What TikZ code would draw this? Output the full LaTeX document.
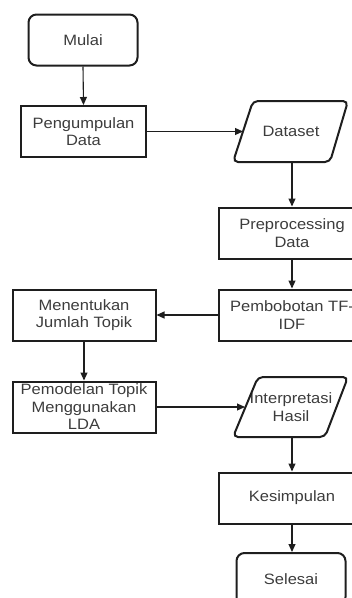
\documentclass[tikz,border=0pt]{standalone}
\usepackage{fontspec}
\setmainfont{Liberation Sans}[FakeStretch=1.1]
\usetikzlibrary{calc,arrows.meta}
\definecolor{txtgray}{HTML}{3C3C3C}
\definecolor{linec}{HTML}{1E1E1E}
\tikzset{
  lbl/.style={text=txtgray, align=center, font=\fontsize{15}{17.5}\selectfont, inner sep=0pt},
  base/.style={lbl, draw=linec, line width=2pt},
  proc/.style={base, rectangle, minimum width=#1, minimum height=51},
  term/.style={base, rounded corners=8pt, minimum width=109, minimum height=51},
  iobox/.style={draw=linec, line width=2pt, rounded corners=5pt},
  arr/.style={-{Triangle[length=8pt,width=7pt]}, line width=1.1pt, draw=linec},
}
\begin{document}
\begin{tikzpicture}[x=1pt,y=-1pt]
\useasboundingbox (0,0) rectangle (352,598);
\clip (0,0) rectangle (352,598);
% nodes
\node[term] (mulai) at (83,40) {Mulai};
\node[proc=125] (peng) at (83.5,131.5) {Pengumpulan\\Data};
\node[lbl] (ds) at (291,131.5) {Dataset};
\draw[iobox] ($(ds)+(-38,-30.5)$) -- ($(ds)+(57,-30.5)$) -- ($(ds)+(39,30.5)$) -- ($(ds)+(-58,30.5)$) -- cycle;
\coordinate (dsL) at ($(ds)+(-48,0)$);
\coordinate (dsB) at ($(ds)+(1,30.5)$);
\node[proc=146] (prep) at (292,233) {Preprocessing\\Data};
\node[proc=146] (bobot) at (292,315) {Pembobotan TF-\\IDF};
\node[proc=143] (tentu) at (84,315) {Menentukan\\Jumlah Topik};
\node[proc=143] (model) at (84,407) {Pemodelan Topik\\Menggunakan\\LDA};
\node[lbl] (interp) at (291,407) {Interpretasi\\Hasil};
\draw[iobox] ($(interp)+(-33,-30)$) -- ($(interp)+(57,-30)$) -- ($(interp)+(34,30)$) -- ($(interp)+(-58,30)$) -- cycle;
\coordinate (inL) at ($(interp)+(-46,0)$);
\coordinate (inB) at ($(interp)+(1,30)$);
\node[proc=146] (kes) at (292,498) {Kesimpulan};
\node[term, minimum height=52] (sel) at (291,579) {Selesai};
% connectors
\draw[arr] (mulai.south) -- (peng.north);
\draw[arr] (peng.east) -- (dsL);
\draw[arr] (dsB) -- (prep.north);
\draw[arr] (prep.south) -- (bobot.north);
\draw[arr] (bobot.west) -- (tentu.east);
\draw[arr] (tentu.south) -- (model.north);
\draw[arr] (model.east) -- (inL);
\draw[arr] (inB) -- (kes.north);
\draw[arr] (kes.south) -- (kes.south |- sel.north);
\end{tikzpicture}
\end{document}
